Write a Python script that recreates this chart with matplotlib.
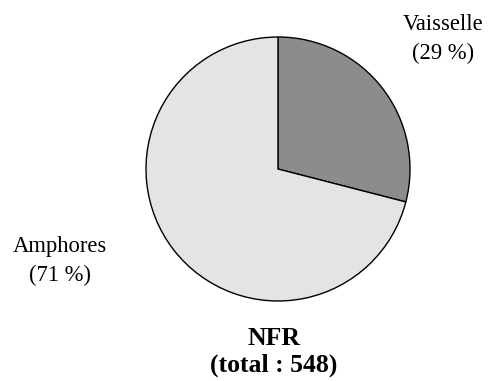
import matplotlib.pyplot as plt

# NFR breakdown (sherd counts)
labels = ["Vaisselle", "Amphores"]
counts = [159, 389]
colors = ["#8b8c8e", "#e3e4e6"]
total = sum(counts)

plt.rcParams['font.family'] = ['Liberation Serif', 'DejaVu Serif']

W, H = 489, 381
fig = plt.figure(figsize=(W / 100, H / 100), dpi=100)
ax = fig.add_axes([0, 0, 1, 1])

# work in pixel units, y measured from the top
cx, cy, r = 278, H - 169, 132
ax.pie(counts, colors=colors, startangle=90, counterclock=False,
       center=(cx, cy), radius=r, frame=True,
       wedgeprops=dict(edgecolor='black', linewidth=1.0))
ax.set_xlim(0, W)
ax.set_ylim(0, H)
ax.set_aspect('equal')
ax.axis('off')

pcts = [round(100 * c / total) for c in counts]


def two_lines(x, y1, y2, top, bottom, **kw):
    ax.text(x, H - y1, top, ha='center', va='baseline', **kw)
    ax.text(x, H - y2, bottom, ha='center', va='baseline', **kw)


two_lines(443, 30, 59, labels[0], f"({pcts[0]} %)", fontsize=16.3)
two_lines(60, 252, 281, labels[1], f"({pcts[1]} %)", fontsize=16.3)
two_lines(274, 345, 372, "NFR", f"(total : {total})",
          fontsize=18.5, fontweight='bold')

fig.savefig("out.png", dpi=100)
